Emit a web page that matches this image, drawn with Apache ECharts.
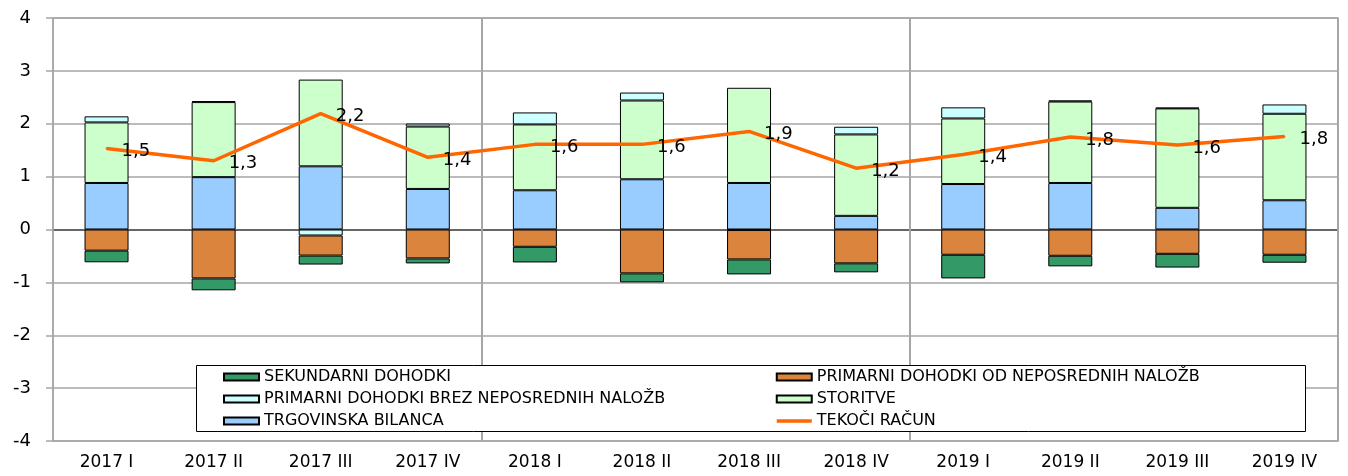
<!DOCTYPE html>
<html>
<head>
<meta charset="utf-8">
<script src="https://cdn.jsdelivr.net/npm/echarts@6/dist/echarts.min.js"></script>
<style>
html,body{margin:0;padding:0;background:#fff;}
#chart{width:1348px;height:476px;}
</style>
</head>
<body>
<div id="chart"></div>
<script>
const categories = ['2017 I','2017 II','2017 III','2017 IV','2018 I','2018 II','2018 III','2018 IV','2019 I','2019 II','2019 III','2019 IV'];
const sekundarni   = [-0.22,-0.225,-0.17,-0.094,-0.296,-0.17,-0.283,-0.17,-0.447,-0.20,-0.26,-0.15];
const primarniNep  = [-0.40,-0.925,-0.38,-0.547,-0.327,-0.83,-0.556,-0.64,-0.478,-0.497,-0.46,-0.478];
const primarniBrez = [0.115,0.02,-0.113,0.057,0.227,0.15,-0.01,0.145,0.21,0.02,0.013,0.176];
const storitve     = [1.145,1.42,1.64,1.18,1.245,1.49,1.80,1.54,1.24,1.54,1.88,1.636];
const trgovinska   = [0.88,0.99,1.195,0.767,0.742,0.95,0.88,0.258,0.86,0.88,0.41,0.553];
const tekoci       = [1.53,1.30,2.19,1.365,1.61,1.61,1.855,1.16,1.42,1.75,1.60,1.76];
const yTicks = { min: -4, max: 4, interval: 1 };

const FONT = 'DejaVu Sans';
const names = {
  sek: 'SEKUNDARNI DOHODKI',
  nep: 'PRIMARNI DOHODKI OD NEPOSREDNIH NALOŽB',
  brez: 'PRIMARNI DOHODKI BREZ NEPOSREDNIH NALOŽB',
  sto: 'STORITVE',
  trg: 'TRGOVINSKA BILANCA',
  tek: 'TEKOČI RAČUN'
};

function barSeries(name, data, color) {
  return {
    name: name, type: 'bar', stack: 'total', data: data,
    barWidth: 44,
    itemStyle: { color: color, borderColor: '#000', borderWidth: 1 },
    z: 2
  };
}

const gridGray = '#a6a6a6';
const splitColors = [];
for (let v = yTicks.min; v <= yTicks.max; v += yTicks.interval) splitColors.push(v === 0 ? '#333333' : gridGray);

const legendCommon = {
  orient: 'vertical', padding: 0, itemGap: 6,
  itemWidth: 35, itemHeight: 7,
  textStyle: { fontFamily: FONT, fontSize: 16, color: '#000' },
  selectedMode: false, z: 5
};
function rectItem(name) { return { name: name, icon: 'rect' }; }

const chart = echarts.init(document.getElementById('chart'), null, { renderer: 'canvas' });
chart.setOption({
  animation: false,
  textStyle: { fontFamily: FONT },
  grid: { left: 53, right: 10, top: 18, bottom: 35, show: true, borderColor: gridGray, borderWidth: 1.5, backgroundColor: 'transparent' },
  xAxis: {
    type: 'category', data: categories,
    axisLine: { show: false, onZero: false },
    axisTick: { show: false },
    axisLabel: { fontFamily: FONT, fontSize: 17, color: '#000', margin: 13 },
    splitLine: { show: true, interval: function (i) { return i === 4 || i === 8; }, lineStyle: { color: gridGray, width: 2 } }
  },
  yAxis: {
    type: 'value', min: yTicks.min, max: yTicks.max, interval: yTicks.interval,
    axisLine: { show: true, lineStyle: { color: gridGray, width: 1.5 } },
    axisTick: { show: true, length: 7, lineStyle: { color: gridGray, width: 1.5 } },
    axisLabel: { fontFamily: FONT, fontSize: 18, color: '#000', margin: 22 },
    splitLine: { show: true, lineStyle: { color: splitColors, width: 1.5 } }
  },
  legend: [
    Object.assign({}, legendCommon, {
      left: 223, top: 369,
      data: [rectItem(names.sek), rectItem(names.brez), rectItem(names.trg)]
    }),
    Object.assign({}, legendCommon, {
      left: 775, top: 369,
      data: [rectItem(names.nep), rectItem(names.sto), { name: names.tek, itemStyle: { opacity: 0 }, lineStyle: { width: 3.5, color: '#FF6600' } }]
    })
  ],
  graphic: [{
    type: 'rect', left: 196, top: 365, z: 3,
    shape: { width: 1109, height: 66 },
    style: { fill: '#fff', stroke: '#000', lineWidth: 1 }
  }],
  series: [
    barSeries(names.trg, trgovinska, '#99CCFF'),
    barSeries(names.sto, storitve, '#CCFFCC'),
    barSeries(names.brez, primarniBrez, '#CCFFFF'),
    barSeries(names.nep, primarniNep, '#DA843E'),
    barSeries(names.sek, sekundarni, '#339966'),
    {
      name: names.tek, type: 'line', data: tekoci,
      symbol: 'circle', symbolSize: 2,
      itemStyle: { color: '#FF6600' },
      lineStyle: { color: '#FF6600', width: 3.5 },
      z: 6,
      label: {
        show: true, position: 'right', distance: 14, offset: [0, 3],
        fontFamily: FONT, fontSize: 18, color: '#000',
        formatter: function (p) { return p.value.toFixed(1).replace('.', ','); }
      }
    }
  ]
});
</script>
</body>
</html>
